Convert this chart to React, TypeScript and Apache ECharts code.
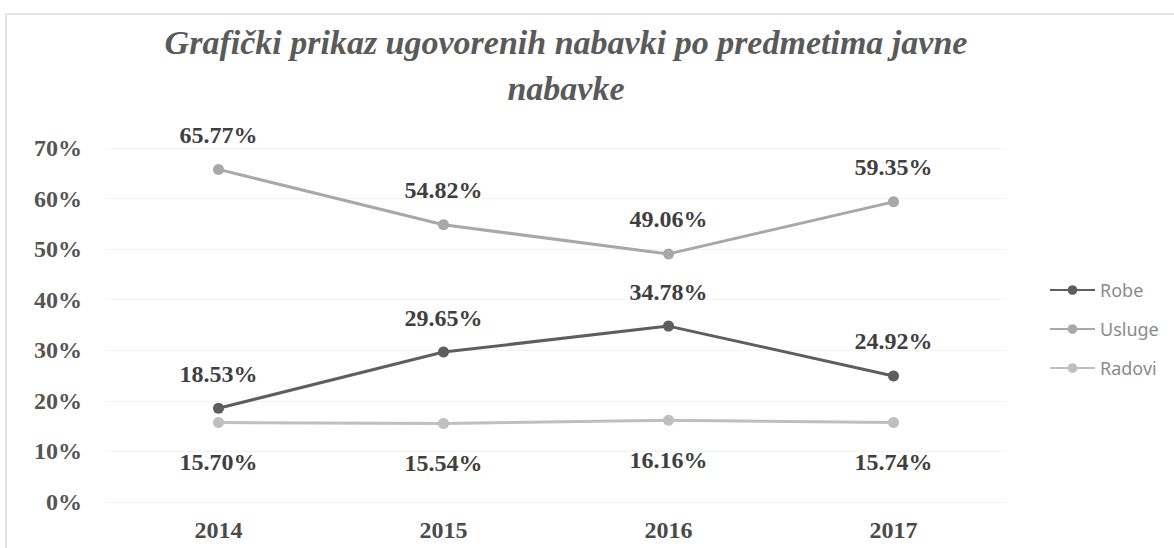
import React, { useEffect, useRef } from "react";
import * as echarts from "echarts";

const years = ["2014", "2015", "2016", "2017"];
const robe = [18.53, 29.65, 34.78, 24.92];
const usluge = [65.77, 54.82, 49.06, 59.35];
const radovi = [15.7, 15.54, 16.16, 15.74];
const seriesNames = ["Robe", "Usluge", "Radovi"];
const seriesColors = ["#5e5e5e", "#a8a8a8", "#bfbfbf"];
const titleText = "Grafički prikaz ugovorenih nabavki po predmetima javne\nnabavke";

export default function App() {
  const ref = useRef<HTMLDivElement>(null);
  useEffect(() => {
    if (!ref.current) return;
    const chart = echarts.init(ref.current, undefined, { renderer: "svg" });
    const labelFont = {
      fontFamily: "Liberation Serif",
      fontWeight: "bold" as const,
      fontSize: 24,
      color: "#3f3f3f",
    };
    const mk = (name: string, data: number[], color: string, pos: "top" | "bottom", dist: number) => ({
      name,
      type: "line",
      data,
      symbol: "circle",
      symbolSize: 11,
      lineStyle: { color, width: 3 },
      itemStyle: { color },
      label: {
        show: true,
        position: pos,
        distance: dist,
        formatter: (p: any) => p.value.toFixed(2) + "%",
        ...labelFont,
      },
    });
    chart.setOption({
      animation: false,
      backgroundColor: "#ffffff",
      title: {
        text: titleText,
        left: 561,
        top: 14,
        textAlign: "center",
        textStyle: {
          fontFamily: "Liberation Serif",
          fontStyle: "italic",
          fontWeight: "bold",
          fontSize: 34,
          lineHeight: 46,
          color: "#5a5a5a",
        },
      },
      graphic: [
        {
          type: "rect",
          shape: { x: 6, y: 14, width: 1180, height: 560 },
          style: { fill: "none", stroke: "#e4e4e4", lineWidth: 2 },
          silent: true,
        },
      ],
      legend: {
        orient: "vertical",
        left: 1044,
        top: 276,
        itemWidth: 45,
        itemHeight: 12,
        itemGap: 21,
        data: seriesNames,
        textStyle: { fontFamily: "Noto Sans", fontSize: 18, color: "#8a8a8a" },
      },
      grid: { left: 106, right: 168, top: 148, bottom: 46 },
      xAxis: {
        type: "category",
        data: years,
        axisLine: { show: false },
        axisTick: { show: false },
        axisLabel: { ...labelFont, color: "#4a4a4a", margin: 16 },
      },
      yAxis: {
        type: "value",
        min: 0,
        max: 70,
        interval: 10,
        axisLine: { show: false },
        axisTick: { show: false },
        splitLine: { lineStyle: { color: "#f3f3f3", width: 1 } },
        axisLabel: {
          ...labelFont,
          color: "#555555",
          margin: 24,
          formatter: (v: number) => v + "%",
        },
      },
      series: [
        mk(seriesNames[0], robe, seriesColors[0], "top", 17),
        mk(seriesNames[1], usluge, seriesColors[1], "top", 17),
        mk(seriesNames[2], radovi, seriesColors[2], "bottom", 22),
      ],
    });
    return () => chart.dispose();
  }, []);
  return (
    <div
      ref={ref}
      style={{ position: "absolute", left: 0, top: 0, width: 1174, height: 548 }}
    />
  );
}
